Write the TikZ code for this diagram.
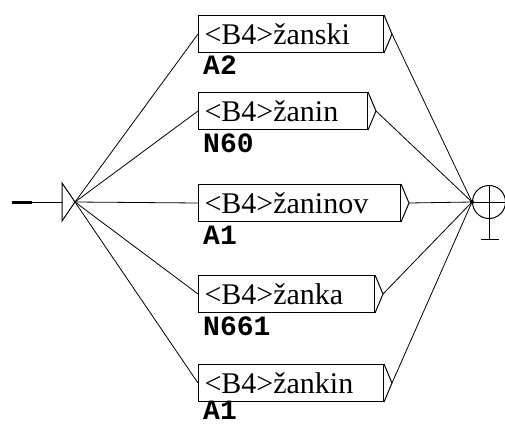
\documentclass[tikz,border=0pt]{standalone}
\usepackage{fontspec}
\usetikzlibrary{calc}
\setmainfont{Liberation Serif}
\newfontfamily\lblfont{Liberation Mono}
\begin{document}
\begin{tikzpicture}[x=1pt,y=-1pt,
  box/.style={draw, line width=1pt, anchor=north west, minimum height=37pt, inner xsep=6pt, inner ysep=0pt,
     align=left, font=\fontsize{30}{30}\selectfont},
  lbl/.style={anchor=base west, inner sep=0pt, font=\lblfont\bfseries\fontsize{28}{28}\selectfont},
  conn/.style={line width=0.8pt},
  brk/.style={line width=1pt}]
\useasboundingbox (0,0) rectangle (505,425);
% initial state
\coordinate (s0) at (12,202);
\coordinate (s1) at (32,202);
\coordinate (t0) at (62,202);
\coordinate (ap) at (75,202);
\draw[line width=3pt] (s0) -- (s1);
\draw[line width=1pt] (s1) -- (t0);
\draw[line width=1pt] (62,183) -- (62,221) -- (ap) -- cycle;
% final state
\coordinate (fin) at (472,202);
\node[draw, circle, line width=1pt, minimum size=33pt, inner sep=0pt] (fc) at (489,202) {};
\draw[line width=1pt] (fin) -- (505,202);
\draw[line width=1pt] (fc.north) -- (489,239);
\coordinate (barL) at (481,239);
\coordinate (barR) at (499,239);
\draw[line width=1pt] (barL) -- (barR);
\fill (fin) circle (2pt);
% boxes
\node[box, minimum width=185pt, text width=173pt] (b1) at (198,15) {<B4>žanski};
\node[box, minimum width=169pt, text width=157pt] (b2) at (198,92) {<B4>žanin};
\node[box, minimum width=202pt, text width=190pt] (b3) at (198,184) {<B4>žaninov};
\node[box, minimum width=176pt, text width=164pt] (b4) at (198,275) {<B4>žanka};
\node[box, minimum width=185pt, text width=173pt] (b5) at (198,364) {<B4>žankin};
% labels
\node[lbl] (l1) at (203,75) {A2};
\node[lbl] (l2) at (203,152) {N60};
\node[lbl] (l3) at (203,244) {A1};
\node[lbl] (l4) at (203,335) {N661};
\node[lbl] (l5) at (203,419) {A1};
% brackets and connections
\foreach \b in {b1,b2,b3,b4,b5}{
  \coordinate (\b t) at ($(\b.east)+(8,0)$);
  \draw[brk] (\b.north east) -- (\b t) -- (\b.south east);
  \draw[conn] (ap) -- (\b.west);
  \draw[conn] (\b t) -- (fin);
}
\end{tikzpicture}
\end{document}
